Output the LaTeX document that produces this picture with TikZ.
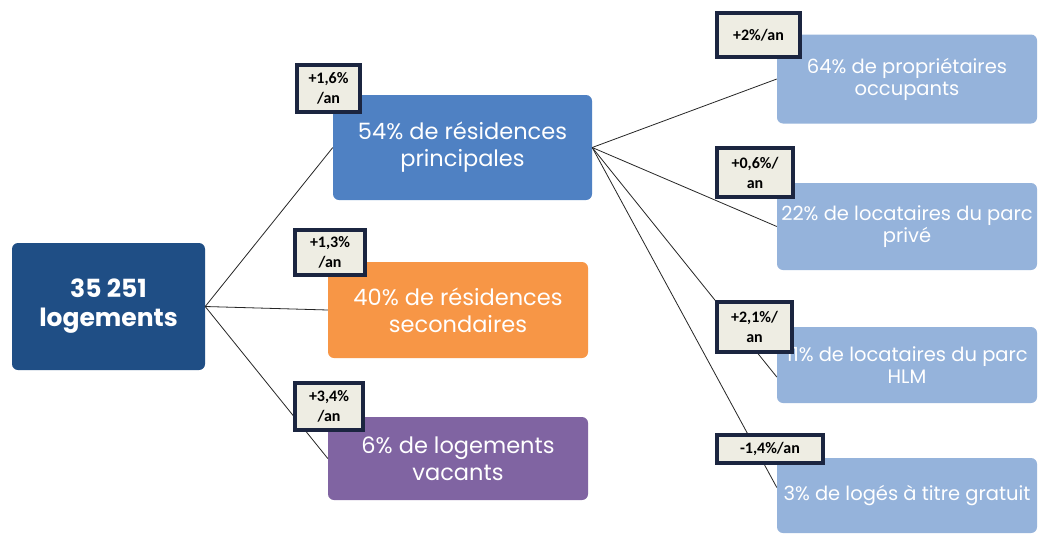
\documentclass[tikz,border=0pt]{standalone}
\usepackage{fontspec}
\setmainfont{Poppins}
\newfontfamily\lbl{Carlito}
\begin{document}
\begin{tikzpicture}[x=1pt,y=-1pt,
  box/.style={rounded corners=6pt, text=white, align=center, inner sep=2pt, font=\fontsize{22.5}{27}\selectfont},
  rbox/.style={box, fill=rblue, minimum width=260pt, font=\fontsize{19.5}{22}\selectfont},
  tag/.style={draw=tagline, line width=3.2pt, fill=tagfill, align=center, inner sep=1pt, font=\lbl\bfseries\fontsize{16}{20}\selectfont, text=black},
  link/.style={draw=black!85, line width=0.8pt}
]
\definecolor{rootblue}{HTML}{1F4E85}
\definecolor{midblue}{HTML}{4F81C3}
\definecolor{orng}{HTML}{F79646}
\definecolor{purp}{HTML}{8064A2}
\definecolor{rblue}{HTML}{95B3DB}
\definecolor{tagline}{HTML}{1B2540}
\definecolor{tagfill}{HTML}{EEEDE3}
\useasboundingbox[fill=white] (0,0) rectangle (1044,536);

\node[box, fill=rootblue, minimum width=193pt, minimum height=127pt, font=\bfseries\fontsize{25}{29}\selectfont] (root) at (108.5,306.5) {35 251\\logements};
\node[box, fill=midblue, minimum width=259pt, minimum height=105pt] (A) at (462.5,147.5) {54\% de résidences\\principales};
\node[box, fill=orng, minimum width=260pt, minimum height=96pt] (B) at (458,310) {40\% de résidences\\secondaires};
\node[box, fill=purp, minimum width=260pt, minimum height=83pt] (C) at (458,458.5) {6\% de logements\\vacants};

\node[rbox, minimum height=89pt] (R1) at (907,79) {64\% de propriétaires\\occupants};
\node[rbox, minimum height=87pt] (R2) at (907,226.5) {22\% de locataires du parc\\privé};
\node[rbox, minimum height=76pt] (R3) at (907,365) {11\% de locataires du parc\\HLM};
\node[rbox, minimum height=75pt] (R4) at (907,495.5) {3\% de logés à titre gratuit};

\draw[link] (root.east) -- (A.west);
\draw[link] (root.east) -- (B.west);
\draw[link] (root.east) -- (C.west);
\draw[link] (A.east) -- (R1.west);
\draw[link] (A.east) -- (R2.west);
\draw[link] (A.east) -- ([yshift=-12pt]R3.west);
\draw[link] (A.east) -- ([yshift=8pt]R4.west);

\node[tag, minimum width=63pt, minimum height=47pt] (t1) at (328.5,88.5) {+1,6\%\\/an};
\node[tag, minimum width=70pt, minimum height=45pt] (t2) at (330,252.5) {+1,3\%\\/an};
\node[tag, minimum width=68pt, minimum height=47pt] (t3) at (329,406.5) {+3,4\%\\/an};
\node[tag, minimum width=83pt, minimum height=44pt] (t4) at (758.5,35) {+2\%/an};
\node[tag, minimum width=76pt, minimum height=49pt] (t5) at (755,172.5) {+0,6\%/\\an};
\node[tag, minimum width=75pt, minimum height=50pt] (t6) at (754.5,327) {+2,1\%/\\an};
\node[tag, minimum width=106pt, minimum height=28pt] (t7) at (770,449) {-1,4\%/an};
\end{tikzpicture}
\end{document}
